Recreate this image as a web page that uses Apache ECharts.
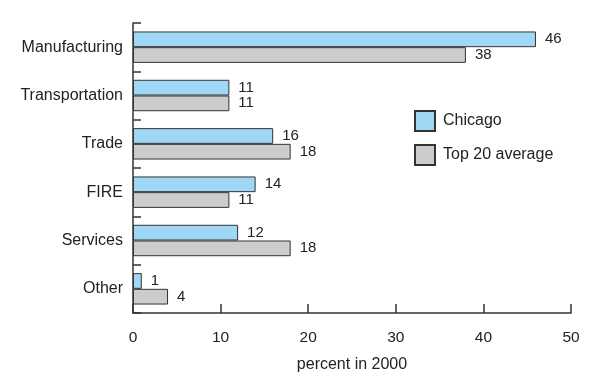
<!DOCTYPE html>
<html><head><meta charset="utf-8">
<script src="https://cdn.jsdelivr.net/npm/echarts@6/dist/echarts.min.js"></script>
<style>html,body{margin:0;padding:0;background:#fff}#c{width:600px;height:381px}</style>
</head><body><div id="c"></div>
<script>
const categories = ['Manufacturing','Transportation','Trade','FIRE','Services','Other'];
const chicago = [46, 11, 16, 14, 12, 1];
const top20 = [38, 11, 18, 11, 18, 4];
const xTicks = [0, 10, 20, 30, 40, 50];
const seriesNames = ['Chicago','Top 20 average'];

const font = 'Liberation Sans, Arial, sans-serif';
const chart = echarts.init(document.getElementById('c'));
const lbl = {show:true, position:'right', distance:9, color:'#222', fontSize:15, fontFamily:font};
chart.setOption({
  animation:false,
  grid:{left:133, right:29, top:23, bottom:68, containLabel:false},
  legend:{orient:'vertical', left:409, top:105, itemWidth:20, itemHeight:20, itemGap:12,
    icon:'rect',
    textStyle:{fontSize:16, color:'#222', fontFamily:font, padding:[0,0,0,3]}, data:seriesNames},
  xAxis:{type:'value', min:xTicks[0], max:xTicks[xTicks.length-1], interval:10,
    name:'percent in 2000', nameLocation:'middle', nameGap:44,
    nameTextStyle:{fontSize:16, color:'#222', fontFamily:font},
    axisLine:{show:true, lineStyle:{color:'#333', width:1.5}},
    axisTick:{show:true, inside:true, length:9, lineStyle:{color:'#333', width:1.5}},
    axisLabel:{fontSize:15.5, color:'#222', margin:17, fontFamily:font},
    splitLine:{show:false}},
  yAxis:{type:'category', data:categories, inverse:true,
    axisLine:{show:true, lineStyle:{color:'#333', width:1.5}},
    axisTick:{show:true, inside:true, length:8, lineStyle:{color:'#333', width:1.5}},
    axisLabel:{fontSize:16, color:'#222', margin:10, fontFamily:font}},
  series:[
    {name:seriesNames[0], type:'bar', data:chicago, barGap:'0%', barCategoryGap:'35%',
     itemStyle:{color:'#9fd7f5', borderColor:'#333', borderWidth:1}, label:lbl},
    {name:seriesNames[1], type:'bar', data:top20, barGap:'0%', barCategoryGap:'35%',
     itemStyle:{color:'#cccccc', borderColor:'#333', borderWidth:1}, label:lbl}
  ]
});
</script></body></html>
